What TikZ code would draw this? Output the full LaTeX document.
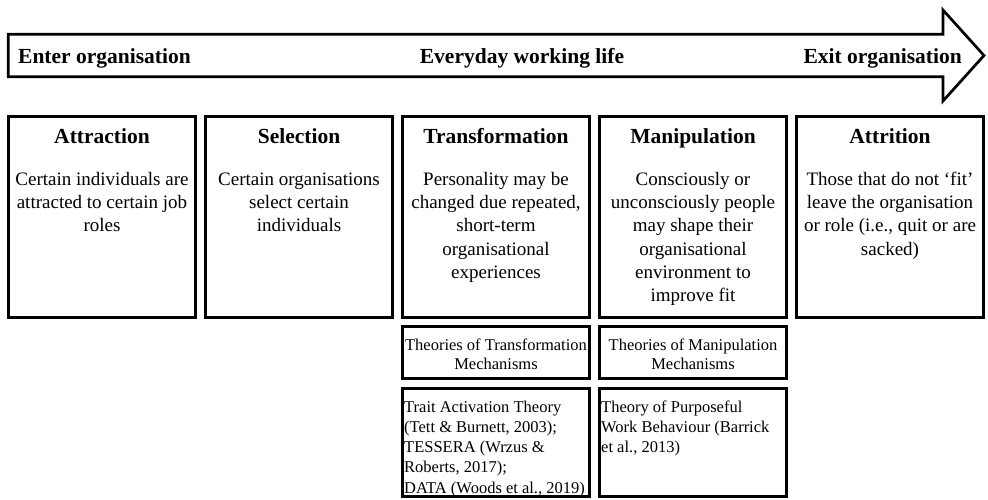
\documentclass[tikz,border=0pt]{standalone}
\usepackage{fontspec}
\setmainfont{Liberation Serif}
\usetikzlibrary{positioning}
\newcommand{\bodystrut}{\rule{0pt}{14pt}}
\newcommand{\refstrut}{\rule{0pt}{12pt}}
\tikzset{
  stagebox/.style={draw, line width=2.7pt, inner sep=0pt, outer sep=0pt,
    minimum width=187.3pt, minimum height=201.3pt},
  theorybox/.style={stagebox, minimum height=52.3pt},
  refbox/.style={stagebox, minimum height=108.3pt},
  lifearrow/.style={draw, line width=2.7pt, line join=miter},
  headlabel/.style={font=\fontsize{21.5}{26}\selectfont\bfseries, inner sep=0pt},
  stagetitle/.style={font=\fontsize{21.5}{26}\selectfont\bfseries, inner sep=0pt,
    text height=15pt, text depth=5pt},
  stagetext/.style={font=\fontsize{19}{23.3}\selectfont, align=center, inner sep=0pt},
  theorytext/.style={font=\fontsize{16.5}{19}\selectfont, align=center, inner sep=0pt},
  reftext/.style={font=\fontsize{16.5}{20.2}\selectfont, align=left, inner sep=0pt}
}

\begin{document}
\begin{tikzpicture}[x=1pt, y=1pt, node distance=9.7pt]
  \useasboundingbox (0,0) rectangle (988,-499);
  % timeline arrow
  \draw [lifearrow] (8.3,-34.3) -- (943,-34.3) -- (943,-10) -- (984,-55.5)
    -- (943,-101) -- (943,-76.7) -- (8.3,-76.7) -- cycle;
  \node [headlabel, anchor=base west] (enter) at (18,-63) {Enter organisation};
  \node [headlabel, anchor=base] (everyday) at (522,-63) {Everyday working life};
  \node [headlabel, anchor=base east] (exit) at (962,-63) {Exit organisation};
  % stage boxes
  \node [stagebox, anchor=north west] (attraction) at (8.35,-116.35) {};
  \node [stagebox, right=of attraction] (selection) {};
  \node [stagebox, right=of selection] (transformation) {};
  \node [stagebox, right=of transformation] (manipulation) {};
  \node [stagebox, right=of manipulation] (attrition) {};
  \node [stagetitle, below=11.65pt of attraction.north] (attraction_title) {Attraction};
  \node [stagetitle, below=11.65pt of selection.north] (selection_title) {Selection};
  \node [stagetitle, below=11.65pt of transformation.north] (transformation_title) {Transformation};
  \node [stagetitle, below=11.65pt of manipulation.north] (manipulation_title) {Manipulation};
  \node [stagetitle, below=11.65pt of attrition.north] (attrition_title) {Attrition};
  \node [stagetext, below=54.65pt of attraction.north] (attraction_text)
    {\bodystrut Certain individuals are\\attracted to certain job\\roles};
  \node [stagetext, below=54.65pt of selection.north] (selection_text)
    {\bodystrut Certain organisations\\select certain\\individuals};
  \node [stagetext, below=54.65pt of transformation.north] (transformation_text)
    {\bodystrut Personality may be\\changed due repeated,\\short-term\\organisational\\experiences};
  \node [stagetext, below=54.65pt of manipulation.north] (manipulation_text)
    {\bodystrut Consciously or\\unconsciously people\\may shape their\\organisational\\environment to\\improve fit};
  \node [stagetext, below=54.65pt of attrition.north] (attrition_text)
    {\bodystrut Those that do not ‘fit’\\leave the organisation\\or role (i.e., quit or are\\sacked)};
  % mechanism boxes
  \node [theorybox, below=8.7pt of transformation] (trans_theory) {};
  \node [theorybox, below=8.7pt of manipulation] (manip_theory) {};
  \node [refbox, below=of trans_theory] (trans_refs) {};
  \node [refbox, below=of manip_theory] (manip_refs) {};
  \node [theorytext, below=11.65pt of trans_theory.north] (trans_theory_text)
    {\refstrut Theories of Transformation\\Mechanisms};
  \node [theorytext, below=11.65pt of manip_theory.north] (manip_theory_text)
    {\refstrut Theories of Manipulation\\Mechanisms};
  \node [reftext, below right=11.65pt and 1.65pt of trans_refs.north west] (trans_refs_text)
    {\refstrut Trait Activation Theory\\(Tett \& Burnett, 2003);\\TESSERA (Wrzus \&\\Roberts, 2017);\\DATA (Woods et al., 2019)};
  \node [reftext, below right=11.65pt and 1.65pt of manip_refs.north west] (manip_refs_text)
    {\refstrut Theory of Purposeful\\Work Behaviour (Barrick\\et al., 2013)};
\end{tikzpicture}
\end{document}
